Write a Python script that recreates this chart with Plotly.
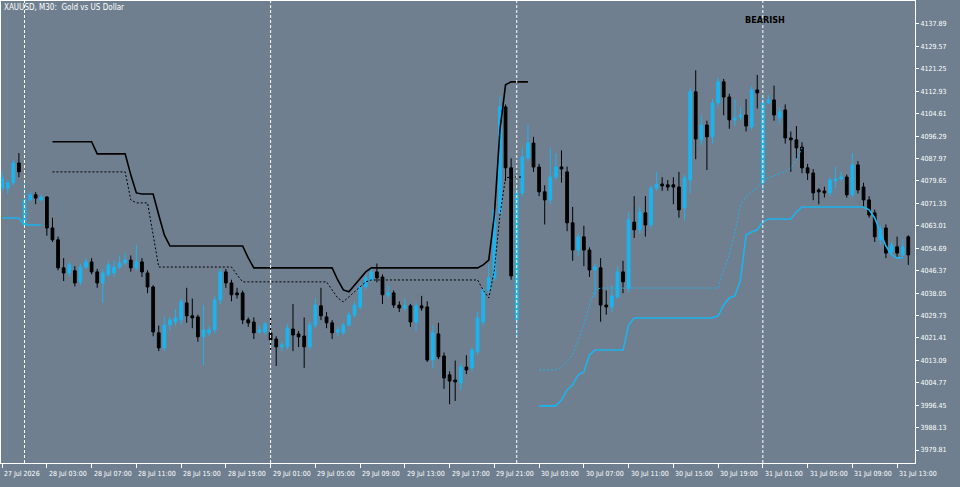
import plotly.graph_objects as go

# XAUUSD M30 candles, one per bar
opens = [4077.0, 4077.0, 4078.9, 4086.3, 4063.3, 4072.6, 4074.5, 4072.6, 4073.7, 4062.2,
         4057.8, 4047.4, 4045.5, 4046.3, 4042.2, 4047.7, 4049.6, 4045.9, 4041.8, 4044.8,
         4045.5, 4047.7, 4049.2, 4050.3, 4047.4, 4049.6, 4045.5, 4040.3, 4023.3, 4017.7,
         4026.2, 4027.3, 4028.1, 4034.4, 4029.6, 4029.2, 4021.8, 4023.3, 4024.4, 4035.5,
         4045.9, 4041.8, 4038.1, 4038.1, 4028.1, 4027.3, 4023.6, 4023.6, 4023.3, 4021.0,
         4018.1, 4018.1, 4024.7, 4022.9, 4022.1, 4018.1, 4026.2, 4033.3, 4029.2, 4027.0,
         4023.6, 4023.3, 4026.2, 4029.9, 4032.9, 4040.3, 4042.9, 4045.9, 4044.0, 4037.4,
         4038.1, 4033.6, 4032.5, 4033.3, 4027.3, 4033.3, 4032.9, 4013.2, 4022.9, 4014.7,
         4007.7, 4005.8, 4004.7, 4010.6, 4010.3, 4016.2, 4027.3, 4039.2, 4043.7, 4067.8,
         4107.1, 4084.5, 4028.1, 4075.2, 4088.2, 4093.7, 4084.8, 4075.6, 4072.6, 4081.1,
         4084.8, 4083.0, 4064.1, 4054.0, 4058.9, 4054.0, 4046.6, 4047.4, 4033.6, 4032.9,
         4036.6, 4045.9, 4040.0, 4064.4, 4061.5, 4067.8, 4063.3, 4077.0, 4078.5, 4078.2,
         4078.2, 4077.4, 4069.6, 4080.0, 4112.7, 4094.9, 4100.4, 4096.0, 4108.6, 4116.4,
         4110.8, 4102.3, 4103.4, 4104.1, 4099.7, 4113.4, 4078.9, 4108.6, 4109.7, 4103.0,
         4106.0, 4095.6, 4094.9, 4092.2, 4084.5, 4082.6, 4076.3, 4075.9, 4075.2, 4079.7,
         4080.4, 4081.1, 4074.5, 4085.6, 4077.4, 4072.6, 4067.8, 4057.8, 4062.2, 4053.3,
         4055.2, 4052.2, 4058.9]
highs = [4083.0, 4080.0, 4087.5, 4090.0, 4080.0, 4075.5, 4075.5, 4074.5, 4074.0, 4066.0,
         4059.0, 4051.0, 4049.5, 4048.0, 4049.0, 4051.0, 4051.0, 4047.0, 4047.0, 4050.0,
         4050.0, 4052.0, 4053.0, 4052.0, 4055.9, 4051.0, 4046.5, 4041.0, 4026.0, 4029.5,
         4029.0, 4032.0, 4036.0, 4040.0, 4036.0, 4030.0, 4033.6, 4026.0, 4037.0, 4047.0,
         4047.0, 4043.0, 4040.0, 4039.0, 4029.0, 4029.0, 4026.0, 4027.5, 4029.5, 4022.0,
         4020.0, 4026.5, 4034.0, 4024.0, 4029.0, 4027.5, 4036.0, 4040.0, 4031.0, 4028.0,
         4025.5, 4027.0, 4031.0, 4035.0, 4042.0, 4045.0, 4047.0, 4049.0, 4045.0, 4041.0,
         4039.0, 4035.0, 4036.0, 4034.0, 4034.5, 4037.0, 4035.0, 4026.0, 4027.0, 4016.0,
         4009.0, 4013.0, 4012.0, 4015.0, 4018.0, 4031.0, 4040.0, 4049.0, 4070.0, 4111.0,
         4108.0, 4088.0, 4077.0, 4092.0, 4100.5, 4096.0, 4086.0, 4078.0, 4092.0, 4090.0,
         4091.0, 4085.0, 4070.0, 4060.0, 4063.0, 4055.0, 4049.0, 4051.0, 4039.0, 4041.0,
         4048.0, 4050.0, 4068.0, 4074.0, 4070.0, 4074.0, 4078.0, 4083.0, 4081.0, 4080.0,
         4081.0, 4083.0, 4082.0, 4114.0, 4120.7, 4104.0, 4102.0, 4110.0, 4118.0, 4117.5,
         4112.0, 4110.0, 4107.0, 4110.0, 4115.0, 4119.0, 4111.0, 4111.5, 4115.0, 4107.0,
         4108.0, 4098.0, 4100.0, 4094.0, 4086.0, 4084.0, 4077.0, 4077.5, 4081.0, 4085.0,
         4083.0, 4082.0, 4090.0, 4087.0, 4079.0, 4074.0, 4069.0, 4063.0, 4063.5, 4057.0,
         4059.0, 4058.0, 4059.5]
lows = [4076.0, 4075.0, 4078.0, 4081.0, 4062.5, 4072.0, 4071.0, 4072.0, 4059.3, 4057.0,
        4046.5, 4042.5, 4044.0, 4040.5, 4041.0, 4047.0, 4045.0, 4040.0, 4034.4, 4044.0,
        4044.0, 4047.0, 4048.5, 4046.0, 4046.5, 4044.0, 4038.0, 4022.0, 4016.5, 4016.5,
        4024.0, 4026.0, 4026.5, 4027.0, 4025.0, 4020.0, 4011.4, 4022.0, 4023.0, 4034.0,
        4040.0, 4035.0, 4036.0, 4026.5, 4025.5, 4021.0, 4023.0, 4022.5, 4017.0, 4011.0,
        4016.5, 4017.0, 4016.5, 4018.0, 4010.3, 4017.0, 4025.0, 4028.0, 4025.0, 4021.0,
        4022.0, 4022.5, 4025.5, 4029.0, 4032.0, 4039.5, 4042.0, 4042.0, 4034.0, 4036.0,
        4032.5, 4031.0, 4031.5, 4025.5, 4024.0, 4031.5, 4012.5, 4010.0, 4013.5, 4002.5,
        3996.8, 3998.0, 4002.0, 4008.0, 4009.0, 4015.0, 4026.0, 4038.0, 4042.5, 4066.0,
        4079.6, 4043.0, 4022.0, 4074.0, 4087.0, 4083.0, 4074.0, 4063.5, 4071.0, 4080.0,
        4079.0, 4061.0, 4050.0, 4052.0, 4048.0, 4044.0, 4036.6, 4027.4, 4030.0, 4031.0,
        4036.0, 4038.0, 4038.5, 4058.5, 4060.0, 4059.0, 4062.0, 4076.0, 4076.0, 4076.0,
        4071.0, 4066.0, 4065.0, 4075.0, 4087.7, 4093.0, 4083.7, 4093.5, 4107.0, 4104.0,
        4099.0, 4100.0, 4102.0, 4098.0, 4098.5, 4106.5, 4076.0, 4108.0, 4102.0, 4101.0,
        4093.5, 4083.0, 4088.0, 4082.5, 4080.0, 4072.5, 4071.0, 4073.5, 4074.0, 4077.0,
        4079.5, 4073.5, 4073.5, 4075.0, 4070.0, 4066.0, 4057.0, 4056.0, 4051.0, 4052.0,
        4051.5, 4051.5, 4048.5]
closes = [4080.8, 4078.9, 4086.3, 4083.0, 4072.6, 4074.5, 4073.3, 4073.7, 4062.2, 4057.8,
          4047.4, 4045.5, 4048.5, 4041.8, 4047.7, 4049.6, 4045.9, 4041.8, 4045.5, 4048.5,
          4047.7, 4049.2, 4050.3, 4047.4, 4049.6, 4045.9, 4040.3, 4023.6, 4017.7, 4026.2,
          4028.1, 4028.8, 4034.8, 4029.6, 4028.8, 4021.8, 4024.4, 4024.4, 4035.5, 4045.9,
          4041.8, 4037.4, 4037.4, 4028.1, 4027.0, 4023.3, 4024.4, 4026.6, 4020.7, 4018.1,
          4018.8, 4025.1, 4022.5, 4021.8, 4018.1, 4026.2, 4033.6, 4029.6, 4027.0, 4023.3,
          4024.4, 4026.2, 4029.9, 4033.6, 4040.3, 4043.7, 4045.9, 4043.7, 4037.4, 4038.1,
          4033.6, 4032.5, 4033.3, 4027.3, 4033.3, 4032.5, 4013.2, 4023.3, 4014.4, 4006.5,
          4005.4, 4005.1, 4010.6, 4009.5, 4016.9, 4028.8, 4039.2, 4043.7, 4068.9, 4107.1,
          4084.5, 4044.4, 4075.2, 4088.6, 4093.7, 4084.8, 4075.6, 4072.6, 4081.1, 4084.8,
          4084.1, 4064.1, 4054.0, 4058.9, 4054.0, 4046.6, 4047.7, 4033.6, 4032.9, 4037.0,
          4045.9, 4042.2, 4065.2, 4061.5, 4068.1, 4063.3, 4077.0, 4078.5, 4077.8, 4077.4,
          4077.4, 4068.9, 4080.8, 4112.7, 4095.2, 4100.4, 4096.0, 4108.6, 4116.4, 4110.8,
          4102.3, 4103.0, 4104.1, 4100.0, 4113.4, 4112.3, 4108.6, 4109.7, 4104.1, 4105.3,
          4095.6, 4094.9, 4091.9, 4084.5, 4082.6, 4075.2, 4075.6, 4075.2, 4080.0, 4080.4,
          4081.1, 4074.5, 4085.6, 4076.3, 4072.6, 4067.0, 4058.9, 4061.5, 4052.9, 4055.9,
          4052.9, 4055.2, 4052.2]

# time axis labels, every 8 bars
tick_bars = list(range(0, 161, 8))
tick_text = ['27 Jul 2026', '28 Jul 03:00', '28 Jul 07:00', '28 Jul 11:00', '28 Jul 15:00',
             '28 Jul 19:00', '29 Jul 01:00', '29 Jul 05:00', '29 Jul 09:00', '29 Jul 13:00',
             '29 Jul 17:00', '29 Jul 21:00', '30 Jul 03:00', '30 Jul 07:00', '30 Jul 11:00',
             '30 Jul 15:00', '30 Jul 19:00', '31 Jul 01:00', '31 Jul 05:00', '31 Jul 09:00',
             '31 Jul 13:00']
day_breaks = [4, 48, 92, 136]
price_ticks = [round(4137.89 - 8.32 * k, 2) for k in range(20)]

# indicator lines (start bar + values)
upper_start = 9
upper_vals = [4094.2] * 8 + [4089.7] * 6 + [4081.9, 4075.2, 4074.8, 4074.8, 4074.8, 4067.0, 4059.6] \
    + [4055.5] * 14 + [4051.1] + [4047.4] * 15 + [4042.9, 4039.2, 4038.5, 4041.1, 4043.7, 4045.9] \
    + [4047.4] * 20 + [4048.5, 4050.3, 4067.0, 4098.6, 4115.3, 4116.4, 4116.4, 4116.4, 4116.4]
upper_dot_start = 9
upper_dot_vals = [4083.0] * 14 + [4072.6, 4071.5, 4071.5, 4071.5, 4059.6] + [4047.7] * 14 \
    + [4044.8] + [4042.2] * 16 + [4039.2, 4036.2, 4034.8, 4036.6, 4038.5, 4040.3, 4042.2] \
    + [4042.9] * 20 + [4039.2, 4036.2, 4046.6, 4067.0, 4080.8, 4081.1, 4081.1, 4081.1]
lower_left = [4065.9] * 4 + [4063.3] * 4
lower_start = 96
lower_vals = [3996.2] * 4 + [3998.4, 4002.1, 4004.0, 4007.7, 4008.8, 4015.1] + [4016.9] * 6 \
    + [4026.2] + [4028.8] * 15 + [4029.6, 4033.6, 4036.2, 4037.0, 4042.9, 4059.6, 4060.7, 4061.5, 4064.4] \
    + [4065.5] * 5 + [4068.1] + [4070.0] * 12 + [4068.9, 4065.9, 4060.7, 4055.5, 4052.2, 4051.1, 4051.1]
lower_dot_start = 96
lower_dot_vals = [4009.5] * 4 + [4010.6, 4012.5, 4015.1, 4020.7, 4026.2, 4033.6, 4039.2] \
    + [4039.9] * 22 + [4046.6, 4052.2, 4060.4, 4070.7, 4073.7, 4075.6, 4077.1, 4080.0, 4080.8,
                        4081.5, 4082.2, 4083.0, 4084.5, 4087.4, 4091.9]

BG = '#707f8f'
CYAN = '#1bb4ef'
FONT = 'DejaVu Sans Condensed, DejaVu Sans'

bars = list(range(len(closes)))
fig = go.Figure()
fig.add_trace(go.Candlestick(
    x=bars, open=opens, high=highs, low=lows, close=closes,
    increasing=dict(line=dict(color=CYAN, width=1), fillcolor=CYAN),
    decreasing=dict(line=dict(color='black', width=1), fillcolor='black'),
    whiskerwidth=0, hoverinfo='skip'))


def add_line(start, vals, color, dash, width):
    fig.add_trace(go.Scatter(x=list(range(start, start + len(vals))), y=vals, mode='lines',
                             line=dict(color=color, dash=dash, width=width), hoverinfo='skip'))


add_line(upper_start, upper_vals, 'black', 'solid', 1.6)
add_line(upper_dot_start, upper_dot_vals, 'black', '2px,2px', 1)
add_line(0, lower_left, CYAN, 'solid', 1.6)
add_line(lower_start, lower_vals, CYAN, 'solid', 1.6)
add_line(lower_dot_start, lower_dot_vals, CYAN, '2px,2px', 1)

for b in day_breaks:
    fig.add_vline(x=b, line=dict(color='white', dash='3px,2px', width=1))

# time labels sit to the right of their tick, as in the terminal
for b, t in zip(tick_bars, tick_text):
    fig.add_annotation(x=b, y=0, xref='x', yref='paper', xanchor='left', yanchor='top',
                       text=t, showarrow=False, xshift=0, yshift=-5,
                       font=dict(color='white', size=7, family=FONT))

fig.add_annotation(x=0, y=1, xref='paper', yref='paper', xanchor='left', yanchor='top',
                   text='XAUUSD, M30:  Gold vs US Dollar', showarrow=False,
                   font=dict(color='white', size=8, family=FONT), xshift=1, yshift=0)
fig.add_annotation(x=0.836, y=0.975, xref='paper', yref='paper', xanchor='center', yanchor='top',
                   text='<b>BEARISH</b>', showarrow=False,
                   font=dict(color='black', size=9, family=FONT))

fig.update_layout(
    width=960, height=487, margin=dict(l=1, r=45, t=1, b=24, pad=0, autoexpand=False),
    paper_bgcolor=BG, plot_bgcolor=BG, showlegend=False,
    font=dict(family=FONT, size=8, color='white'),
    xaxis=dict(range=[-0.2, 163.2], rangeslider=dict(visible=False), showgrid=False, zeroline=False,
               tickvals=tick_bars, showticklabels=False, ticks='outside', ticklen=4, tickcolor='white',
               showline=True, linecolor='white', mirror=True),
    yaxis=dict(range=[3975.0, 4146.4], side='right', showgrid=False, zeroline=False,
               tickvals=price_ticks, ticktext=['%.2f' % p for p in price_ticks],
               ticks='outside', ticklen=3, tickcolor='white',
               showline=True, linecolor='white', mirror=True, tickfont=dict(size=7)),
)

# drop the default page margin so the chart fills the window
fig.write_html('out.html', config={'displayModeBar': False},
               post_script="document.body.style.margin='0';")
